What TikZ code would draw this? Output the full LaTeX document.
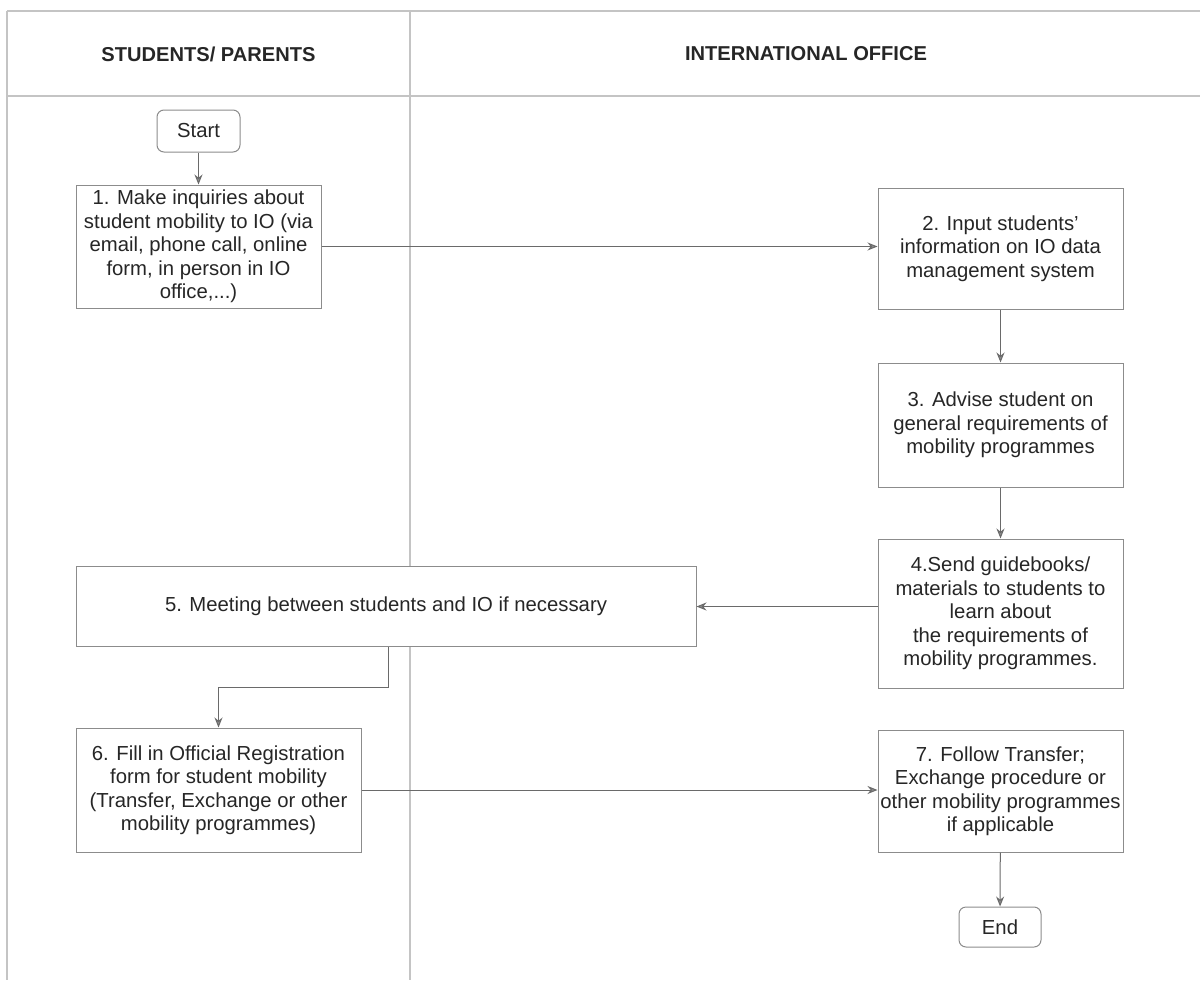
\documentclass[tikz,border=0pt]{standalone}
\usepackage{fontspec}
\setmainfont{Liberation Sans}
\usetikzlibrary{arrows.meta,calc}
\definecolor{gridc}{HTML}{C4C4C4}
\definecolor{boxc}{HTML}{8C8C8C}
\definecolor{linec}{HTML}{6A6A6A}
\definecolor{txtc}{HTML}{262626}
\tikzset{
  stepbox/.style={draw=boxc, line width=1pt, fill=white, inner sep=0pt, align=center,
    text=txtc, font=\fontsize{20.3}{23.5}\selectfont},
  termbox/.style={stepbox, rounded corners=7pt},
  lane/.style={draw=gridc, line width=1.1pt},
  arr/.style={draw=linec, line width=1pt, -{Stealth[length=10pt,width=8pt,fill=boxc]}},
  head/.style={text=txtc, font=\bfseries\fontsize{20.1}{24}\selectfont}
}
\begin{document}
\begin{tikzpicture}[x=1pt,y=-1pt]
\useasboundingbox (0,0) rectangle (1200,982);
% lanes
\draw[lane] (7,11) -- (1200,11);
\draw[lane] (7,96) -- (1200,96);
\draw[lane] (7,11) -- (7,980);
\draw[lane] (410,11) -- (410,980);
\node[head] (h1) at (208.5,54) {STUDENTS/ PARENTS};
\node[head] (h2) at (806,54) {INTERNATIONAL OFFICE};
% nodes
\node[termbox, minimum width=83pt, minimum height=42pt] (start) at (198.5,131) {Start};
\node[stepbox, minimum width=245pt, minimum height=123pt] (b1) at (198.5,246.5)
  {1. Make inquiries about\\student mobility to IO (via\\email, phone call, online\\form, in person in IO\\office,...)};
\node[stepbox, minimum width=245pt, minimum height=121pt] (b2) at (1000.5,248.5)
  {2. Input students'\\information on IO data\\management system};
\node[stepbox, minimum width=245pt, minimum height=124pt] (b3) at (1000.5,425)
  {3. Advise student on\\general requirements of\\mobility programmes};
\node[stepbox, minimum width=245pt, minimum height=149pt] (b4) at (1000.5,613.5)
  {4.Send guidebooks/\\materials to students to\\learn about\\the requirements of\\mobility programmes.};
\node[stepbox, minimum width=620pt, minimum height=80pt] (b5) at (386,606.5)
  {5. Meeting between students and IO if necessary};
\node[stepbox, minimum width=285pt, minimum height=124pt] (b6) at (218.5,790)
  {6. Fill in Official Registration\\form for student mobility\\(Transfer, Exchange or other\\mobility programmes)};
\node[stepbox, minimum width=245pt, minimum height=122pt] (b7) at (1000.5,791)
  {7. Follow Transfer;\\Exchange procedure or\\other mobility programmes\\if applicable};
\node[termbox, minimum width=82pt, minimum height=40pt] (end) at (1000,927) {End};
\coordinate (k) at (388,687);
% connectors
\draw[arr] (start) -- (b1);
\draw[arr] (b1.east) -- (b2.west |- b1.east);
\draw[arr] (b2) -- (b3);
\draw[arr] (b3) -- (b4);
\draw[arr] (b4.west |- b5.east) -- (b5.east);
\draw[arr] (b5.south -| k) -- (k) -| (b6.north);
\draw[arr] (b6.east) -- (b7.west |- b6.east);
\draw[arr] (b7) -- (end);
\end{tikzpicture}
\end{document}
